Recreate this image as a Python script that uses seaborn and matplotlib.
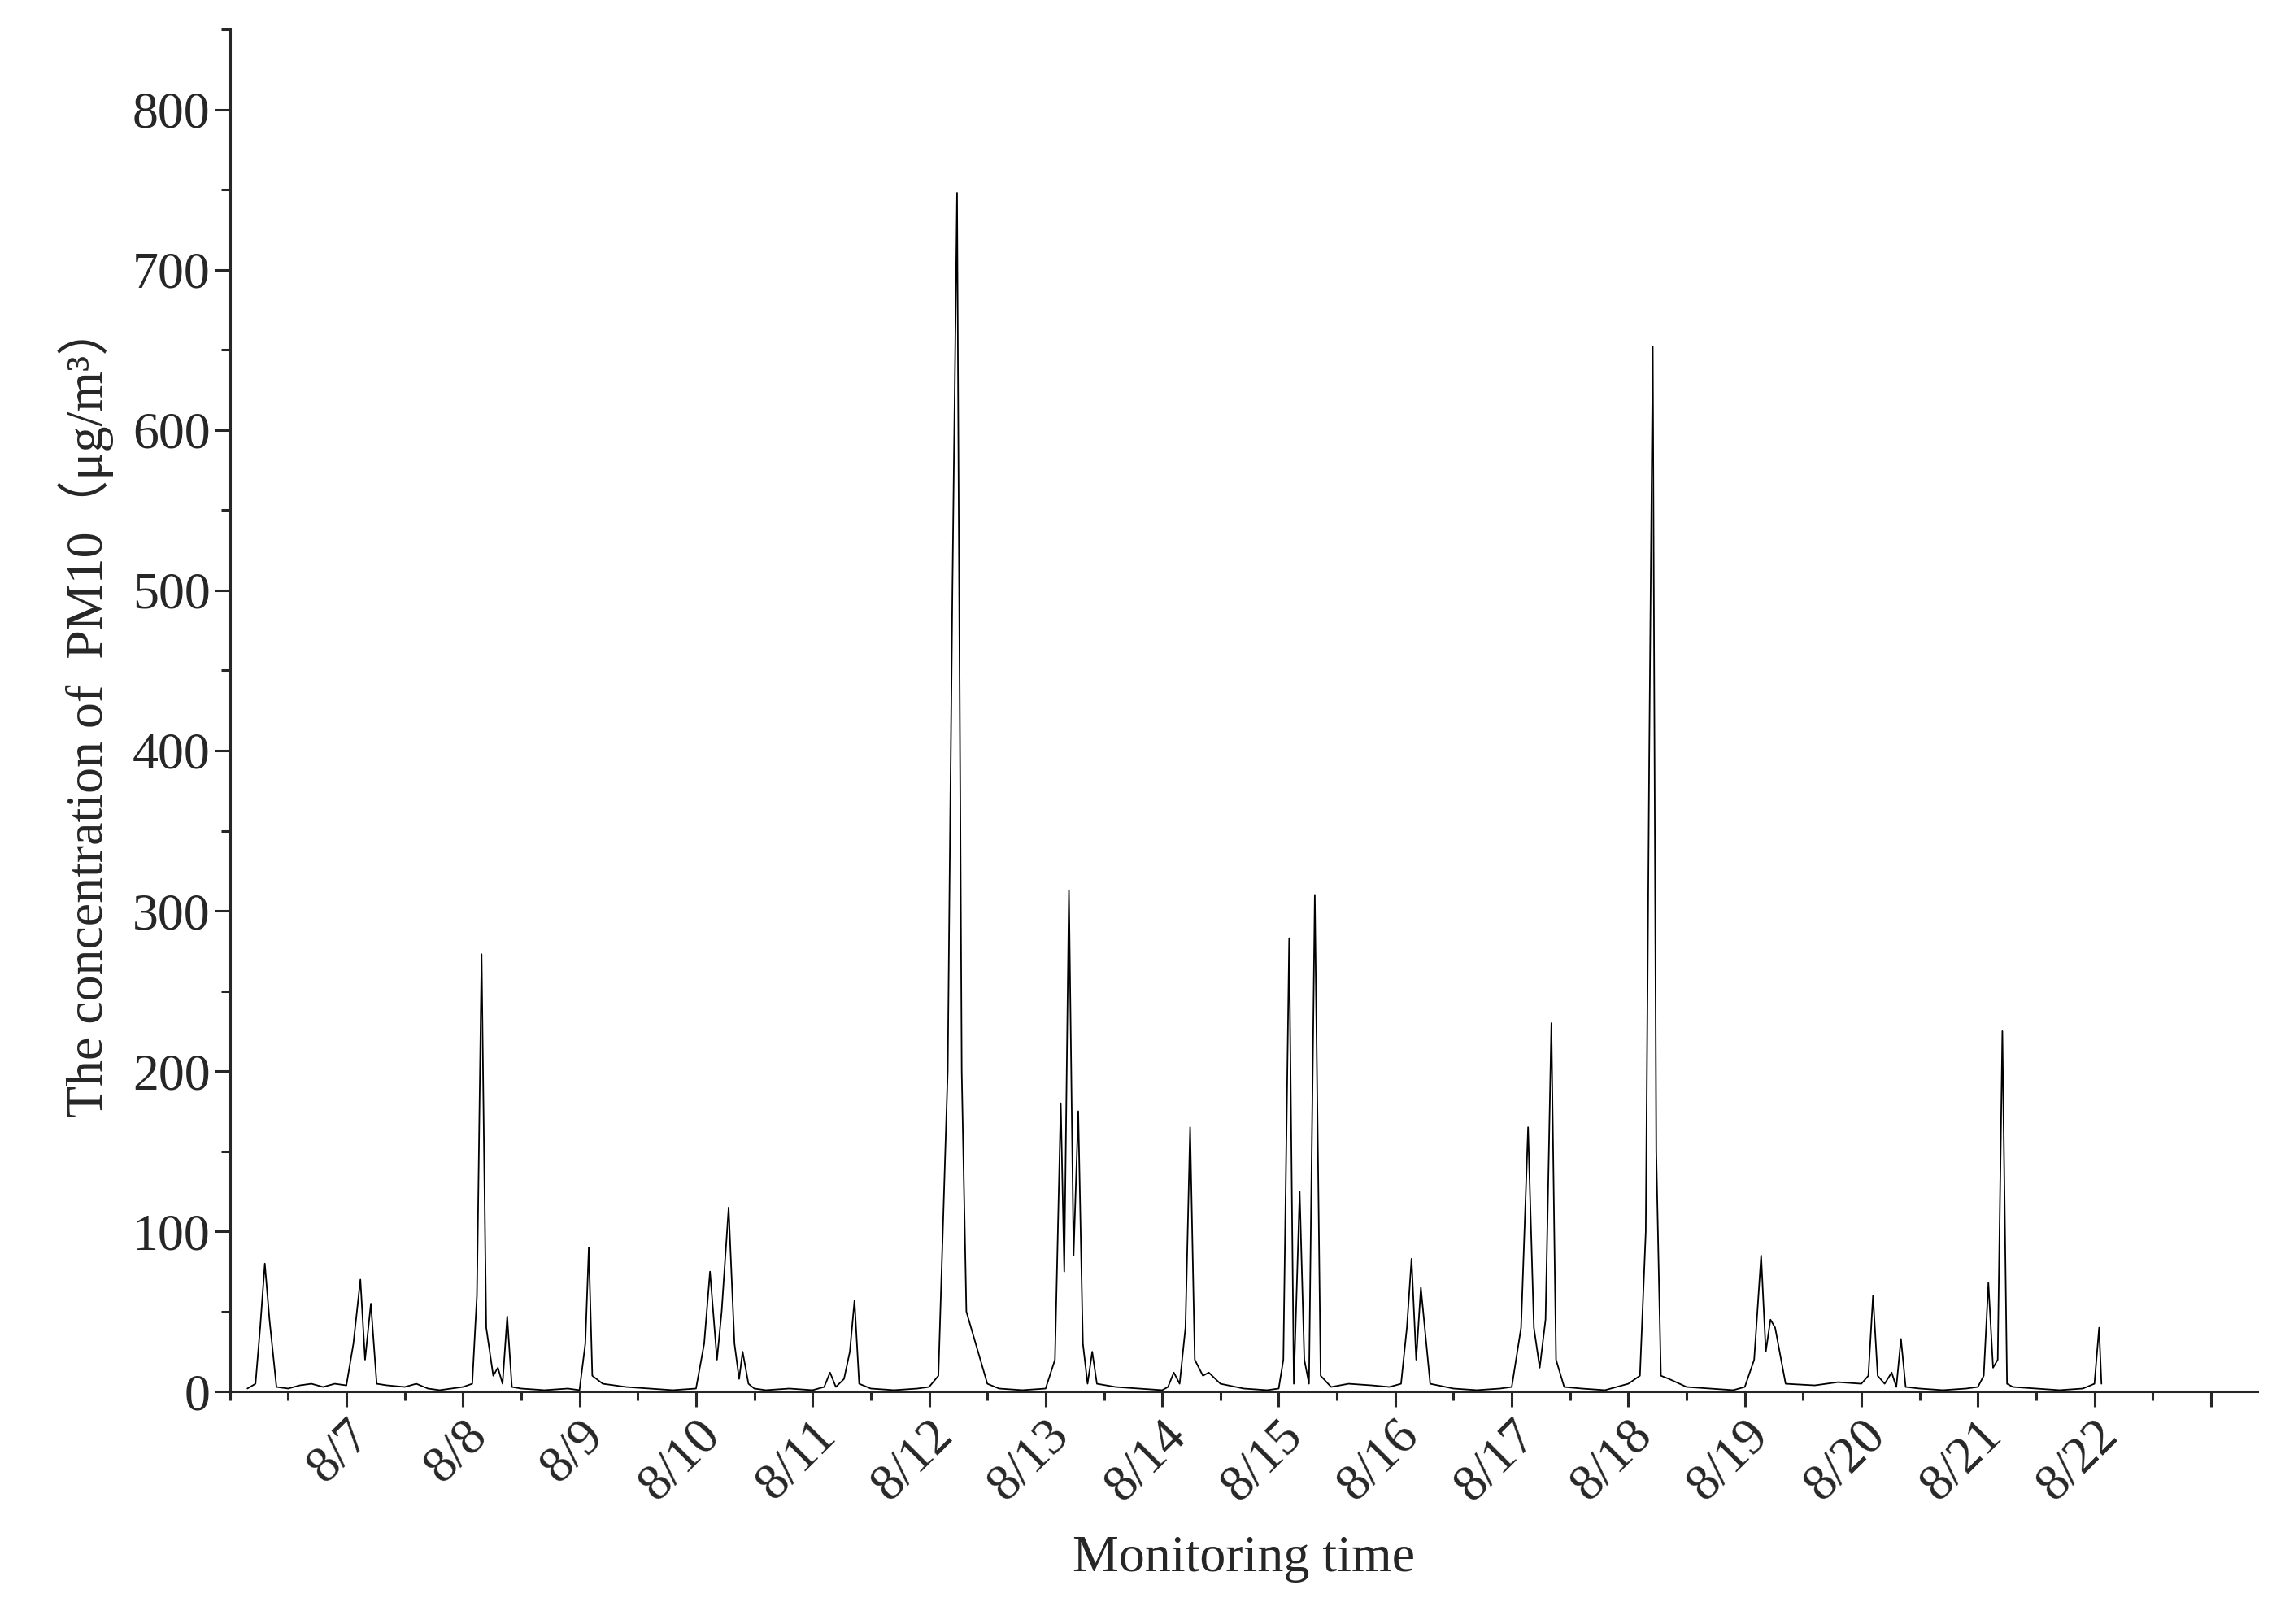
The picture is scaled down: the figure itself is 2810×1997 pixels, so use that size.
import numpy as np
import matplotlib
matplotlib.use("Agg")
import matplotlib.pyplot as plt
import seaborn as sns
from matplotlib.ticker import MultipleLocator

sns.set_style("ticks")
plt.rcParams['font.family'] = ['Liberation Serif', 'DejaVu Serif']

# time in days since 8/6 00:00, PM10 concentration (ug/m3)
days = [0.15, 0.22, 0.26, 0.30, 0.34, 0.40, 0.50, 0.60, 0.70, 0.80, 0.90, 1.00, 1.06, 1.12, 1.16, 1.21, 1.26,
        1.35, 1.50, 1.60, 1.70, 1.80, 1.90, 2.00, 2.08, 2.12, 2.16, 2.20, 2.26, 2.30, 2.34, 2.38, 2.42,
        2.50, 2.70, 2.90, 3.00, 3.05, 3.08, 3.11, 3.20, 3.40, 3.60, 3.80, 4.00, 4.07, 4.12, 4.18, 4.22,
        4.28, 4.33, 4.37, 4.40, 4.45, 4.50, 4.60, 4.80, 5.00, 5.10, 5.15, 5.20, 5.27, 5.32, 5.36, 5.40,
        5.50, 5.70, 5.90, 6.00, 6.08, 6.16, 6.20, 6.24, 6.28, 6.32, 6.40, 6.50, 6.60, 6.80, 7.00, 7.08,
        7.13, 7.16, 7.20, 7.24, 7.28, 7.32, 7.36, 7.40, 7.44, 7.60, 7.80, 8.00, 8.05, 8.10, 8.15, 8.20,
        8.24, 8.28, 8.35, 8.40, 8.50, 8.70, 8.90, 9.00, 9.04, 9.09, 9.13, 9.18, 9.22, 9.26, 9.31, 9.36,
        9.45, 9.60, 9.80, 9.95, 10.05, 10.10, 10.14, 10.18, 10.22, 10.30, 10.50, 10.70, 10.90, 11.00,
        11.08, 11.14, 11.19, 11.24, 11.29, 11.34, 11.38, 11.45, 11.60, 11.80, 12.00, 12.10, 12.15,
        12.18, 12.21, 12.24, 12.28, 12.35, 12.50, 12.70, 12.90, 13.00, 13.08, 13.14, 13.18, 13.22,
        13.26, 13.35, 13.60, 13.80, 14.00, 14.06, 14.10, 14.14, 14.20, 14.26, 14.30, 14.34, 14.38,
        14.50, 14.70, 14.90, 15.00, 15.05, 15.09, 15.13, 15.17, 15.21, 15.25, 15.30, 15.50, 15.70,
        15.90, 16.00, 16.04, 16.06]
pm10 = [2, 5, 40, 80, 45, 3, 2, 4, 5, 3, 5, 4, 30, 70, 20, 55, 5,
        4, 3, 5, 2, 1, 2, 3, 5, 60, 273, 40, 10, 15, 5, 47, 3,
        2, 1, 2, 1, 30, 90, 10, 5, 3, 2, 1, 2, 30, 75, 20, 50,
        115, 30, 8, 25, 5, 2, 1, 2, 1, 3, 12, 3, 8, 25, 57, 5,
        2, 1, 2, 3, 10, 200, 500, 748, 200, 50, 30, 5, 2, 1, 2, 20,
        180, 75, 313, 85, 175, 30, 5, 25, 5, 3, 2, 1, 3, 12, 5, 40,
        165, 20, 10, 12, 5, 2, 1, 2, 20, 283, 5, 125, 20, 5, 310, 10,
        3, 5, 4, 3, 5, 40, 83, 20, 65, 5, 2, 1, 2, 3,
        40, 165, 40, 15, 45, 230, 20, 3, 2, 1, 5, 10, 100,
        400, 652, 150, 10, 8, 3, 2, 1, 3, 20, 85, 25, 45,
        40, 5, 4, 6, 5, 10, 60, 10, 5, 12, 3, 33, 3,
        2, 1, 2, 3, 10, 68, 15, 20, 225, 5, 3, 2, 1,
        2, 5, 40, 5]

tick_labels = ["8/%d" % d for d in range(7, 23)]

fig = plt.figure(figsize=(28.1, 19.97), dpi=100)
ax = fig.add_axes([0.1006, 0.143, 0.8874, 0.839])
sns.lineplot(x=days, y=pm10, ax=ax, color="black", lw=1.3)

ax.set_xlim(0, 17.4)
ax.set_ylim(0, 850)
ax.set_xticks(np.arange(1, 18))
ax.set_xticklabels(tick_labels + [""], rotation=45, ha="right", rotation_mode="anchor")
ax.xaxis.set_minor_locator(MultipleLocator(0.5))
ax.yaxis.set_major_locator(MultipleLocator(100))
ax.yaxis.set_minor_locator(MultipleLocator(50))
ax.tick_params(which="major", direction="out", length=14, width=2.2, labelsize=46)
ax.tick_params(which="minor", direction="out", length=8, width=2.2)
for s in ["left", "bottom"]:
    ax.spines[s].set_linewidth(2.2)
sns.despine(ax=ax)
ax.set_xlabel("Monitoring time", fontsize=46, labelpad=22)
ax.set_ylabel("The concentration of  PM10\uff08\u03bcg/m\u00b3\uff09", fontsize=46,
              family=['Liberation Serif', 'Noto Sans CJK SC'], labelpad=16)
fig.savefig("out.png", dpi=100)
